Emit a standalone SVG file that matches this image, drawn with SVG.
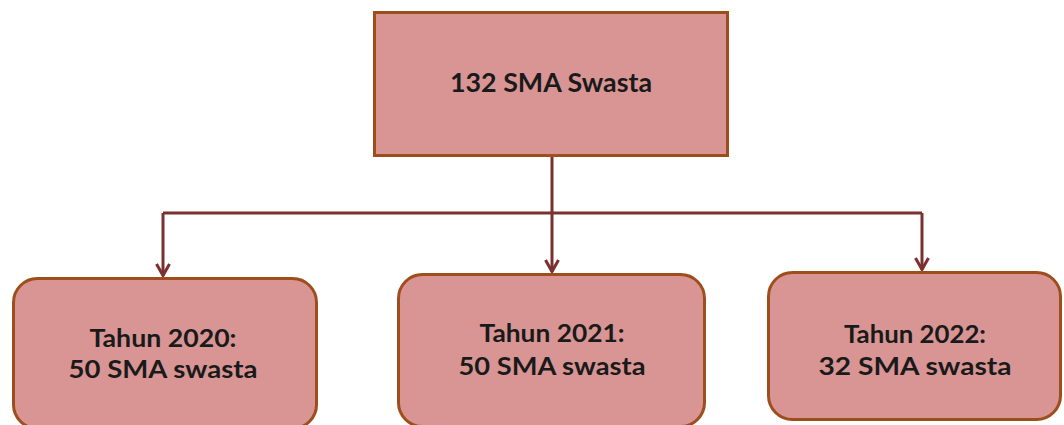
<svg xmlns="http://www.w3.org/2000/svg" width="1064" height="425" viewBox="0 0 1064 425">
<defs>
<style>
.box{fill:#D99594;stroke:#9E4E1C;stroke-width:3}
.t{font-family:Lato,"Open Sans","Liberation Sans",sans-serif;font-weight:bold;fill:#1a1a1a;text-anchor:middle}
.c{fill:none;stroke:#79302F;stroke-width:3}
</style>
<marker id="ah" viewBox="0 0 14 16" refX="13" refY="8" markerWidth="14" markerHeight="16" markerUnits="userSpaceOnUse" orient="auto">
<path d="M1,1.5 L12.5,8 L1,14.5" fill="none" stroke="#79302F" stroke-width="3"/>
</marker>
</defs>
<rect width="1064" height="425" fill="#ffffff"/>
<g id="connectors">
<path class="c" d="M552,156 V213"/>
<path class="c" d="M163,213 H922"/>
<path class="c" d="M163,213 V276" marker-end="url(#ah)"/>
<path class="c" d="M552,213 V272" marker-end="url(#ah)"/>
<path class="c" d="M922,213 V270" marker-end="url(#ah)"/>
</g>
<g id="node-top">
<rect class="box" x="374.5" y="12.5" width="353" height="143"/>
<text class="t" x="551" y="92" font-size="26" textLength="202" lengthAdjust="spacingAndGlyphs">132 SMA Swasta</text>
</g>
<g id="node-2020">
<rect class="box" x="13.5" y="278.5" width="303" height="150" rx="24"/>
<text class="t" x="163" y="347" font-size="24" textLength="147" lengthAdjust="spacingAndGlyphs">Tahun 2020:</text>
<text class="t" x="163" y="378" font-size="24" textLength="189" lengthAdjust="spacingAndGlyphs">50 SMA swasta</text>
</g>
<g id="node-2021">
<rect class="box" x="398.5" y="274.5" width="306" height="152" rx="24"/>
<text class="t" x="552" y="342" font-size="24" textLength="145" lengthAdjust="spacingAndGlyphs">Tahun 2021:</text>
<text class="t" x="552" y="375" font-size="24" textLength="187" lengthAdjust="spacingAndGlyphs">50 SMA swasta</text>
</g>
<g id="node-2022">
<rect class="box" x="768.5" y="272.5" width="292" height="147" rx="24"/>
<text class="t" x="915" y="343" font-size="24" textLength="142" lengthAdjust="spacingAndGlyphs">Tahun 2022:</text>
<text class="t" x="915" y="375" font-size="24" textLength="193" lengthAdjust="spacingAndGlyphs">32 SMA swasta</text>
</g>
</svg>
